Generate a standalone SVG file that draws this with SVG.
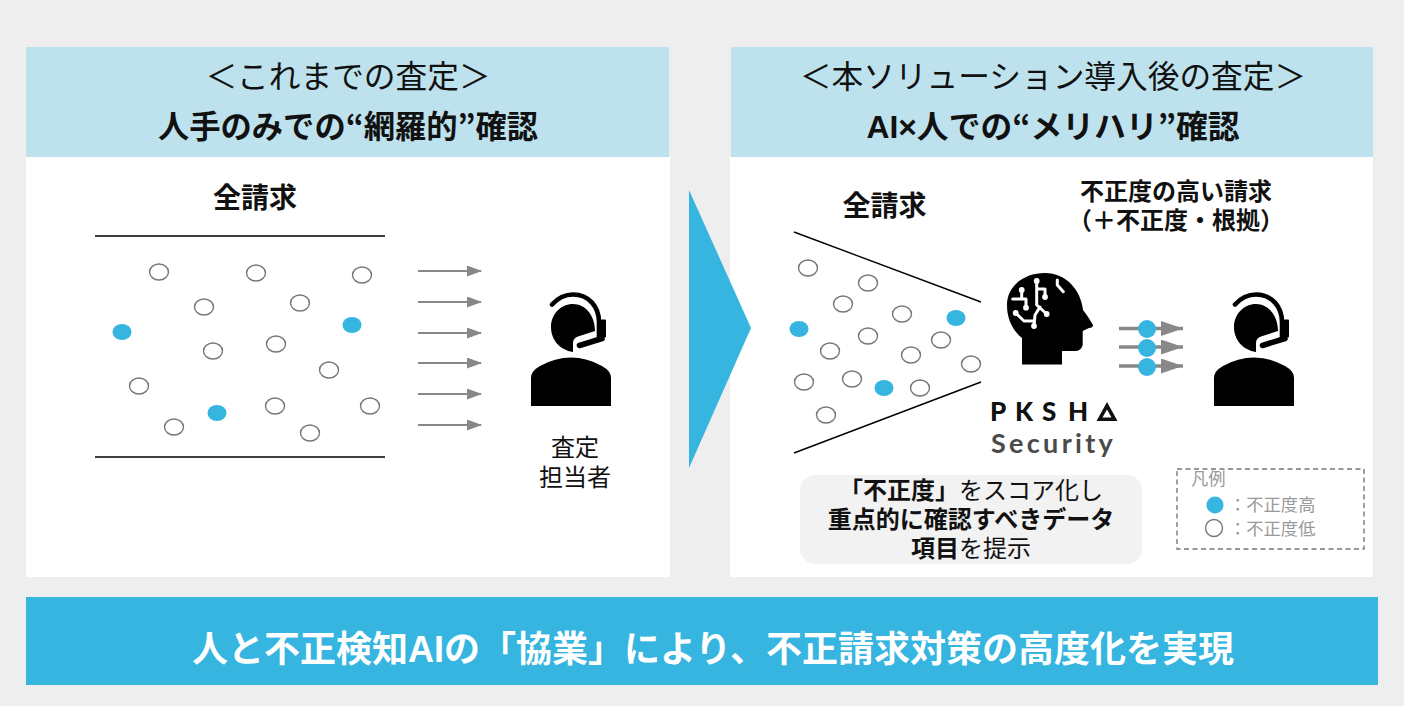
<svg xmlns="http://www.w3.org/2000/svg" width="1404" height="706" viewBox="0 0 1404 706">
<style>
text{font-family:"Noto Sans CJK JP","Noto Sans",sans-serif;fill:#111;text-anchor:middle}
.b{font-weight:700}
.lat{font-family:"Liberation Sans","Noto Sans CJK JP",sans-serif}
.h1{font-size:31.700px;font-weight:400}
.h2{font-size:31.300px;font-weight:700}
.h3{font-size:28px;font-weight:700}
.h4{font-size:24px;font-weight:700}
.m{font-size:24px}
.l{font-size:17.300px;fill:#999;text-anchor:start}
.o{fill:#fff;stroke:#777;stroke-width:1.4}
.c{fill:#35b5e0}
.a{stroke:#888;stroke-width:2;fill:none;marker-end:url(#ah)}
.a2{stroke:#888;stroke-width:3.4;fill:none;marker-end:url(#ah2)}
.k{stroke:#000;stroke-width:1.4}
.w{fill:none;stroke:#fff;stroke-width:3;stroke-linejoin:round;stroke-linecap:round}
.wd{fill:#fff}
</style>
<defs>
<marker id="ah" markerUnits="userSpaceOnUse" markerWidth="15" markerHeight="12" refX="14" refY="5.5" orient="auto"><path d="M0 0L15 5.5L0 11Z" fill="#888"/></marker>
<marker id="ah2" markerUnits="userSpaceOnUse" markerWidth="24" markerHeight="18" refX="22" refY="7.5" orient="auto"><path d="M0 0L22 7.500L0 15Z" fill="#888"/></marker>
<g id="person">
<path d="M531 406V378Q531 371 540 366Q555 357.500 571 357.500Q587 357.500 602 366Q611 371 611 378V406Z" fill="#000"/>
<path d="M573 352C560 350 551 340 551 327C551 314 561 304 573 304C585 304 595 315 595 331L578 336.500Q573 338 573 343Z" fill="#000"/>
<path d="M552 304.500C558 298 564 294.500 573 294.500C589 294.500 599 307 599 322V338" fill="none" stroke="#000" stroke-width="4.600" stroke-linecap="round"/>
<rect x="600" y="319.500" width="6" height="18" rx="1" fill="#000"/>
<path d="M602 338.500L579.500 345.500" stroke="#000" stroke-width="5.600" stroke-linecap="round"/>
</g>
</defs>
<rect width="1404" height="706" fill="#eeeeee"/>
<g id="left-panel">
<rect x="26" y="47" width="643" height="110" fill="#bde2ee"/>
<rect x="26" y="157" width="644" height="420" fill="#fff"/>
<text x="348" y="88" class="h1">＜これまでの査定＞</text>
<text x="348" y="138" class="h2">人手のみでの“網羅的”確認</text>
<text x="255" y="208" class="h3">全請求</text>
</g>
<g id="right-panel">
<rect x="731" y="47" width="642" height="110" fill="#bde2ee"/>
<rect x="730" y="157" width="643" height="420" fill="#fff"/>
<text x="1053" y="88" class="h1">＜本ソリューション導入後の査定＞</text>
<text x="1053" y="138" class="h2" style="font-size:31.800px"><tspan class="lat">AI×</tspan>人での“メリハリ”確認</text>
<text x="884.500" y="216" class="h3">全請求</text>
<text x="1176" y="200" class="h4">不正度の高い請求</text>
<text x="1176" y="229" class="h4">（＋不正度・根拠）</text>
</g>
<g id="left-claims">
<path class="k" d="M95 236H385M95 457H385"/>
<ellipse class="o" cx="159" cy="272" rx="9.500" ry="8"/><ellipse class="o" cx="256" cy="273" rx="9.500" ry="8"/><ellipse class="o" cx="362" cy="275" rx="9.500" ry="8"/><ellipse class="o" cx="204" cy="307" rx="9.500" ry="8"/><ellipse class="o" cx="300" cy="303" rx="9.500" ry="8"/><ellipse class="c" cx="122" cy="332" rx="9.500" ry="8"/><ellipse class="c" cx="352" cy="325" rx="9.500" ry="8"/><ellipse class="o" cx="213" cy="351" rx="9.500" ry="8"/><ellipse class="o" cx="276" cy="344" rx="9.500" ry="8"/><ellipse class="o" cx="329" cy="370" rx="9.500" ry="8"/><ellipse class="o" cx="139" cy="386" rx="9.500" ry="8"/><ellipse class="o" cx="174" cy="427" rx="9.500" ry="8"/><ellipse class="c" cx="217" cy="413" rx="9.500" ry="8"/><ellipse class="o" cx="275" cy="406" rx="9.500" ry="8"/><ellipse class="o" cx="370" cy="406" rx="9.500" ry="8"/><ellipse class="o" cx="310" cy="433" rx="9.500" ry="8"/>
</g>
<g id="reviewer-left">
<use href="#person"/>
<text x="575" y="456" class="m">査定</text>
<text x="575" y="486" class="m">担当者</text>
</g>
<g id="connectors">
<path class="a" d="M418 271H481"/><path class="a" d="M418 302H481"/><path class="a" d="M418 333H481"/><path class="a" d="M418 363H481"/><path class="a" d="M418 394H481"/><path class="a" d="M418 425H481"/>
<path class="a2" d="M1119 328.500H1183"/><path class="a2" d="M1119 347H1183"/><path class="a2" d="M1119 366H1183"/>
</g>
<g id="chevron"><path class="c" d="M689 190L751 328L689 468Z"/></g>
<g id="right-claims">
<path class="k" d="M794 232L981 302M794 453L981 382"/>
<ellipse class="o" cx="808" cy="268" rx="9.500" ry="8"/><ellipse class="o" cx="868" cy="283" rx="9.500" ry="8"/><ellipse class="o" cx="843" cy="304" rx="9.500" ry="8"/><ellipse class="o" cx="902" cy="314" rx="9.500" ry="8"/><ellipse class="c" cx="956" cy="318" rx="9.500" ry="8"/><ellipse class="c" cx="799" cy="329" rx="9.500" ry="8"/><ellipse class="o" cx="868" cy="336" rx="9.500" ry="8"/><ellipse class="o" cx="941" cy="340" rx="9.500" ry="8"/><ellipse class="o" cx="830" cy="351" rx="9.500" ry="8"/><ellipse class="o" cx="911" cy="355" rx="9.500" ry="8"/><ellipse class="o" cx="971" cy="364" rx="9.500" ry="8"/><ellipse class="o" cx="804" cy="382" rx="9.500" ry="8"/><ellipse class="o" cx="852" cy="379" rx="9.500" ry="8"/><ellipse class="c" cx="884" cy="388" rx="9.500" ry="8"/><ellipse class="o" cx="920" cy="388" rx="9.500" ry="8"/><ellipse class="o" cx="826" cy="415" rx="9.500" ry="8"/>
</g>
<g id="flow-dots">
<circle class="c" cx="1147" cy="329" r="9"/><circle class="c" cx="1147" cy="348" r="9"/><circle class="c" cx="1147" cy="367" r="9"/>
</g>
<g id="ai-head">
<path d="M1022 364.500V338C1012 330 1007 318 1007 305C1007 286 1024 273 1045 273C1066 273 1081 290 1083 310C1087 315 1090 320 1093 325Q1093 328 1089 328L1082.700 331V345Q1081 351 1075 351H1062V364.500Z" fill="#000"/>
<path class="w" d="M1036.700 281V305L1046.700 314M1036.700 289H1045V297M1040 307L1035 315L1034 326M1015.700 313L1024 321H1034M1021.700 290V299M1012.700 299H1026V307.700M1057.300 280V285L1063.300 291.700"/>
<circle class="wd" cx="1036.700" cy="281" r="2.900"/><circle class="wd" cx="1045" cy="297" r="2.900"/><circle class="wd" cx="1046.700" cy="314" r="2.900"/><circle class="wd" cx="1034" cy="326" r="2.900"/><circle class="wd" cx="1015.700" cy="313" r="2.900"/><circle class="wd" cx="1021.700" cy="290" r="2.900"/><circle class="wd" cx="1026" cy="307.700" r="2.900"/>
<text y="421" style="font-family:'Lato','Noto Sans',sans-serif;font-weight:900;text-anchor:start;fill:#111" font-size="26"><tspan x="990">P</tspan><tspan x="1015">K</tspan><tspan x="1042">S</tspan><tspan x="1068">H</tspan></text>
<path d="M1096.500 421L1107 402L1117.500 421ZM1102.500 417.500H1111.500L1107 409.500Z" fill="#111" fill-rule="evenodd"/>
<text x="991" y="453" style="font-family:'Lato','Noto Sans',sans-serif;font-weight:700;text-anchor:start;letter-spacing:3.300px;fill:#4a4a4a" font-size="27">Security</text>
</g>
<g id="reviewer-right"><use href="#person" x="683"/></g>
<g id="callout">
<rect x="800" y="475" width="342" height="89" rx="15" fill="#f2f2f2"/>
<text x="971" y="499" class="m"><tspan class="b">「不正度」</tspan>をスコア化し</text>
<text x="971" y="528" class="m b">重点的に確認すべきデータ</text>
<text x="971" y="557" class="m"><tspan class="b">項目</tspan>を提示</text>
</g>
<g id="legend">
<rect x="1177" y="469" width="187" height="80" fill="none" stroke="#777" stroke-width="1.400" stroke-dasharray="5 3.500"/>
<text x="1191" y="485" class="l">凡例</text>
<circle class="c" cx="1215" cy="505" r="8.500"/>
<text x="1229" y="511" class="l">：不正度高</text>
<circle class="o" cx="1214" cy="528" r="8.500"/>
<text x="1229" y="535" class="l">：不正度低</text>
</g>
<g id="banner">
<rect x="26" y="597" width="1352" height="88" fill="#35b5e0"/>
<text x="713" y="662" style="fill:#fff;font-weight:700;font-size:36px">人と不正検知<tspan class="lat" style="fill:#fff">AI</tspan>の「協業」により、不正請求対策の高度化を実現</text>
</g>
</svg>
